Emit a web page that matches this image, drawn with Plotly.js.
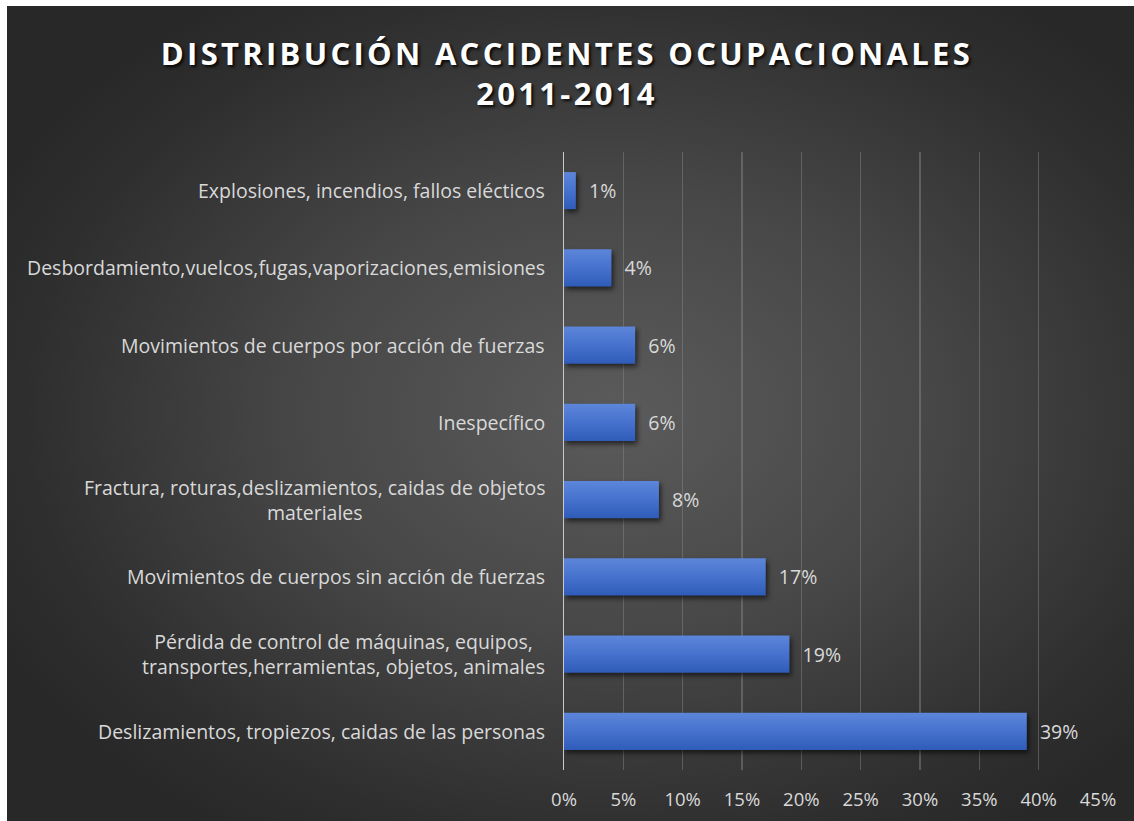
<!DOCTYPE html>
<html>
<head>
<meta charset="utf-8">
<script src="https://cdn.plot.ly/plotly-3.0.1.min.js"></script>
<style>
  html, body { margin: 0; padding: 0; background: #ffffff; width: 1134px; height: 821px; overflow: hidden; }
  #bg { position: absolute; left: 7px; top: 6px; width: 1127px; height: 815px;
        background: radial-gradient(ellipse 62% 62% at 54% 50%, #5b5b5b 0%, #474747 45%, #2e2e2e 85%, #282828 100%); }
  #chart { position: absolute; left: 0; top: 0; width: 1134px; height: 821px; }
  #chart .gtitle { letter-spacing: 3.3px; }
  #chart .barlayer .point path { fill: url(#barGrad) !important; filter: drop-shadow(2px 3px 2.5px rgba(0,0,0,0.6)); }
</style>
</head>
<body>
<svg width="0" height="0" style="position:absolute">
  <defs>
    <linearGradient id="barGrad" x1="0" y1="0" x2="0" y2="1">
      <stop offset="0%" stop-color="#5d86da"/>
      <stop offset="55%" stop-color="#4470cc"/>
      <stop offset="100%" stop-color="#2f5cb8"/>
    </linearGradient>
  </defs>
</svg>
<div id="bg"></div>
<div id="chart"></div>
<script>
// Categories listed top to bottom as in the chart
const categories = [
  "Explosiones, incendios, fallos elécticos",
  "Desbordamiento,vuelcos,fugas,vaporizaciones,emisiones",
  "Movimientos de cuerpos por acción de fuerzas",
  "Inespecífico",
  "Fractura, roturas,deslizamientos, caidas de objetos<br>materiales",
  "Movimientos de cuerpos sin acción de fuerzas",
  "Pérdida de control de máquinas, equipos,<br>transportes,herramientas, objetos, animales",
  "Deslizamientos, tropiezos, caidas de las personas"
];
const shares = [0.01, 0.04, 0.06, 0.06, 0.08, 0.17, 0.19, 0.39];
const xTickValues = [0, 0.05, 0.10, 0.15, 0.20, 0.25, 0.30, 0.35, 0.40, 0.45];
const titleText = "DISTRIBUCIÓN ACCIDENTES OCUPACIONALES<br>2011-2014";

const labelColor = "#d9d9d9";
const fontFam = "'Open Sans', sans-serif";

const trace = {
  type: "bar",
  orientation: "h",
  x: shares,
  y: categories,
  marker: { color: "#4472c4", line: { width: 0 } },
  texttemplate: "\u00a0\u00a0%{x:.0%}",
  textposition: "outside",
  cliponaxis: false,
  constraintext: "none",
  textfont: { family: fontFam, size: 19.5, color: labelColor },
  hoverinfo: "skip"
};

const annotations = categories.map(c => ({
  xref: "paper", yref: "y",
  x: 0, y: c,
  xanchor: "right", yanchor: "middle",
  xshift: -17,
  align: "center",
  showarrow: false,
  text: c,
  font: { family: fontFam, size: 19.5, color: labelColor }
}));

const layout = {
  width: 1134, height: 821,
  paper_bgcolor: "rgba(0,0,0,0)",
  plot_bgcolor: "rgba(0,0,0,0)",
  margin: { l: 564, r: 36, t: 152, b: 51, pad: 0 },
  showlegend: false,
  bargap: 0.52,
  title: {
    text: titleText,
    x: 0.5, xref: "container", xanchor: "center",
    y: 1 - 65 / 821, yref: "container", yanchor: "middle",
    font: { family: fontFam, size: 31, color: "#ffffff", weight: 700, shadow: "2px 2px 3px rgba(0,0,0,0.85)" }
  },
  xaxis: {
    range: [0, 0.45],
    tickvals: xTickValues,
    tickformat: ".0%",
    showgrid: true,
    gridcolor: "rgba(140,140,140,0.45)",
    gridwidth: 1.5,
    zeroline: false,
    showline: false,
    ticks: "",
    ticklabelstandoff: 16,
    tickfont: { family: fontFam, size: 18.5, color: labelColor },
    fixedrange: true
  },
  yaxis: {
    type: "category",
    autorange: "reversed",
    showticklabels: false,
    showgrid: false,
    zeroline: false,
    showline: true,
    linecolor: "#c9c9c9",
    linewidth: 1.5,
    ticks: "",
    fixedrange: true
  },
  annotations: annotations
};

Plotly.newPlot("chart", [trace], layout, { displayModeBar: false, staticPlot: true });
</script>
</body>
</html>
